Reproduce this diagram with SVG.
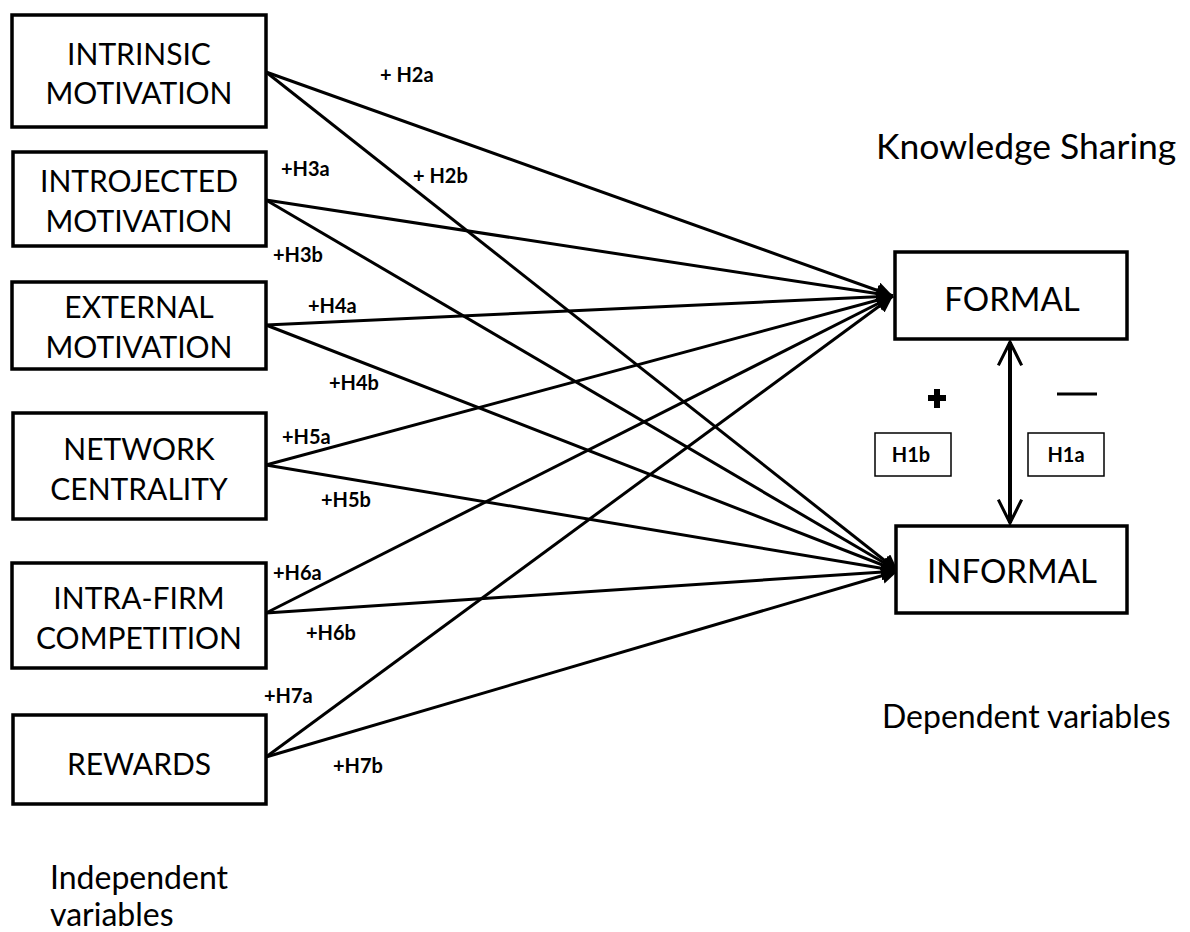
<svg xmlns="http://www.w3.org/2000/svg" width="1190" height="932" viewBox="0 0 1190 932">
<defs>
<style>
.box{fill:#fff;stroke:#000;stroke-width:3.5}
.sbox{fill:#fff;stroke:#000;stroke-width:1.5}
.bt{font-family:Lato,"Open Sans",sans-serif;font-size:30px;fill:#000;text-anchor:middle}
.rt{font-family:Lato,"Open Sans",sans-serif;font-size:33px;fill:#000;text-anchor:middle}
.lab{font-family:Lato,"Open Sans",sans-serif;font-size:20px;font-weight:bold;fill:#000}
.cap{font-family:Lato,"Open Sans",sans-serif;font-size:32px;fill:#000}
.ks{font-family:Lato,"Open Sans",sans-serif;font-size:35.5px;fill:#000}
.con{stroke:#000;stroke-width:3;fill:none}
</style>
<marker id="ah" viewBox="0 0 10 10" refX="10" refY="5" markerWidth="5.5" markerHeight="5.5" markerUnits="strokeWidth" orient="auto">
<path d="M0,0 L10,5 L0,10 z" fill="#000"/>
</marker>
<marker id="oh" viewBox="0 0 12 12" refX="11" refY="6" markerWidth="7" markerHeight="7" markerUnits="strokeWidth" orient="auto-start-reverse">
<path d="M1,1 L11,6 L1,11" fill="none" stroke="#000" stroke-width="1.3"/>
</marker>
</defs>
<rect width="1190" height="932" fill="#fff"/>
<g id="connectors">
<line class="con" x1="266" y1="72" x2="893" y2="296" marker-end="url(#ah)"/>
<line class="con" x1="266" y1="72" x2="898" y2="571" marker-end="url(#ah)"/>
<line class="con" x1="266" y1="200" x2="893" y2="296" marker-end="url(#ah)"/>
<line class="con" x1="266" y1="200" x2="898" y2="571" marker-end="url(#ah)"/>
<line class="con" x1="266" y1="325" x2="893" y2="296" marker-end="url(#ah)"/>
<line class="con" x1="266" y1="325" x2="898" y2="571" marker-end="url(#ah)"/>
<line class="con" x1="266" y1="465" x2="893" y2="296" marker-end="url(#ah)"/>
<line class="con" x1="266" y1="465" x2="898" y2="571" marker-end="url(#ah)"/>
<line class="con" x1="266" y1="613" x2="893" y2="296" marker-end="url(#ah)"/>
<line class="con" x1="266" y1="613" x2="898" y2="571" marker-end="url(#ah)"/>
<line class="con" x1="266" y1="757" x2="893" y2="296" marker-end="url(#ah)"/>
<line class="con" x1="266" y1="757" x2="898" y2="571" marker-end="url(#ah)"/>
<line x1="1010" y1="342" x2="1010" y2="523" stroke="#000" stroke-width="4" marker-start="url(#oh)" marker-end="url(#oh)"/>
</g>
<g id="intrinsic"><rect class="box" x="12" y="15" width="254" height="112"/><text class="bt" x="139" y="65">INTRINSIC</text><text class="bt" x="139" y="104">MOTIVATION</text></g>
<g id="introjected"><rect class="box" x="13" y="152" width="253" height="94"/><text class="bt" x="139" y="192">INTROJECTED</text><text class="bt" x="139" y="232">MOTIVATION</text></g>
<g id="external"><rect class="box" x="12" y="282" width="254" height="87"/><text class="bt" x="139" y="318">EXTERNAL</text><text class="bt" x="139" y="358">MOTIVATION</text></g>
<g id="network"><rect class="box" x="13" y="413" width="253" height="106"/><text class="bt" x="139" y="460">NETWORK</text><text class="bt" x="139" y="500">CENTRALITY</text></g>
<g id="intrafirm"><rect class="box" x="12" y="563" width="254" height="105"/><text class="bt" x="139" y="609">INTRA-FIRM</text><text class="bt" x="139" y="649">COMPETITION</text></g>
<g id="rewards"><rect class="box" x="13" y="715" width="253" height="89"/><text class="bt" x="139" y="775">REWARDS</text></g>
<g id="formal"><rect class="box" x="895" y="252" width="232" height="87"/><text class="rt" x="1012" y="311">FORMAL</text></g>
<g id="informal"><rect class="box" x="896" y="526" width="231" height="87"/><text class="rt" x="1012" y="583">INFORMAL</text></g>
<g id="h1b"><rect class="sbox" x="875" y="433" width="76" height="43"/><text class="lab" x="911" y="462" text-anchor="middle">H1b</text></g>
<g id="h1a"><rect class="sbox" x="1028" y="433" width="76" height="43"/><text class="lab" x="1066" y="462" text-anchor="middle">H1a</text></g>
<g id="signs">
<path d="M937,389 V408 M928,398 H946" stroke="#000" stroke-width="6"/>
<line x1="1057" y1="394" x2="1097" y2="394" stroke="#000" stroke-width="3"/>
</g>
<g id="labels">
<text class="lab" x="380" y="82">+ H2a</text>
<text class="lab" x="281" y="176">+H3a</text>
<text class="lab" x="413" y="183">+ H2b</text>
<text class="lab" x="273" y="262">+H3b</text>
<text class="lab" x="308" y="313">+H4a</text>
<text class="lab" x="329" y="390">+H4b</text>
<text class="lab" x="282" y="444">+H5a</text>
<text class="lab" x="321" y="507">+H5b</text>
<text class="lab" x="273" y="580">+H6a</text>
<text class="lab" x="306" y="640">+H6b</text>
<text class="lab" x="264" y="703">+H7a</text>
<text class="lab" x="333" y="773">+H7b</text>
</g>
<g id="captions">
<text class="ks" x="876" y="159">Knowledge Sharing</text>
<text class="cap" x="882" y="728">Dependent variables</text>
<text class="cap" x="50" y="889">Independent</text>
<text class="cap" x="50" y="926">variables</text>
</g>
</svg>
